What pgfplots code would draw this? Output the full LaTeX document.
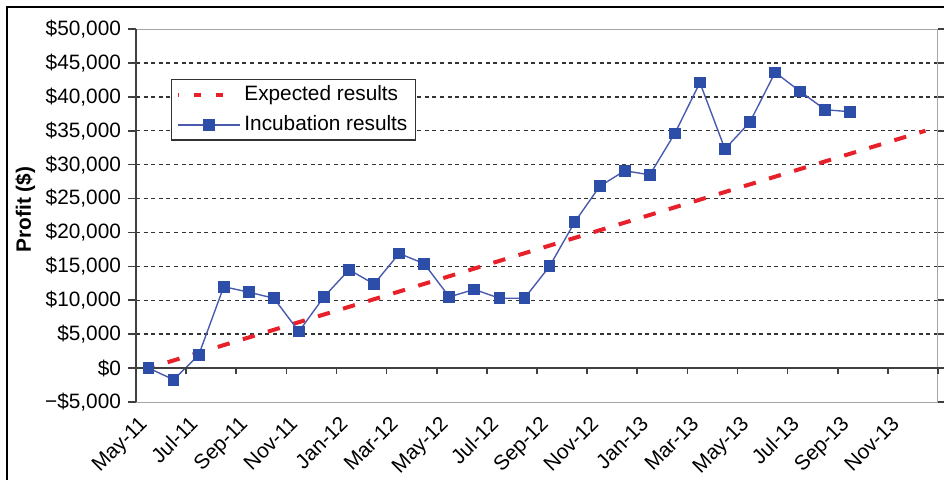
\documentclass[border=0pt]{standalone}
\usepackage{fontspec}
\setmainfont{Liberation Sans}
\usepackage{pgfplots}
\pgfplotsset{compat=1.18}

\definecolor{incmark}{RGB}{45,78,168}
\definecolor{incline}{RGB}{74,91,174}
\definecolor{expred}{RGB}{232,32,42}
\definecolor{axdark}{RGB}{64,64,64}

\begin{document}
\begin{tikzpicture}[font=\fontsize{10.4}{12}\selectfont]
% page size (axis box south west corner sits at the origin)
\path[use as bounding box] (-68pt,-38.5pt) rectangle (404pt,201pt);
\begin{axis}[
    scale only axis,
    width=401pt,
    height=186.5pt,
    xmin=-0.5, xmax=31.5,
    ymin=-5000, ymax=50000,
    scaled ticks=false,
    clip=false,
    axis line style={black!35, line width=0.5pt},
    xtick={0,2,...,30},
    xticklabels={May-11,Jul-11,Sep-11,Nov-11,Jan-12,Mar-12,May-12,Jul-12,
                 Sep-12,Nov-12,Jan-13,Mar-13,May-13,Jul-13,Sep-13,Nov-13},
    xtick style={draw=none},
    % shift of about 6pt to the left on the page (shifts act in the rotated frame)
    xticklabel style={rotate=45, anchor=north east, inner sep=1pt, xshift=-4.2pt, yshift=3.2pt},
    ytick={0,5000,...,45000},
    yticklabels={{\$0},{\$5,000},{\$10,000},{\$15,000},{\$20,000},{\$25,000},
                 {\$30,000},{\$35,000},{\$40,000},{\$45,000}},
    extra y ticks={-5000,50000},
    extra y tick labels={{−\$5,000},{\$50,000}},
    extra y tick style={grid=none},
    ytick style={axdark, line width=0.8pt},
    tick align=outside,
    major tick length=4pt,
    ymajorgrids,
    grid style={black!80, line width=0.7pt, dash pattern=on 2pt off 1.8pt},
    ylabel={\bfseries Profit (\$)},
    ylabel style={at={(axis description cs:-0.138,0.516)}, anchor=center},
    legend style={
        at={(0.0436,0.866)}, anchor=north west,
        draw=black!80, line width=0.75pt, fill=white,
        inner xsep=2pt, inner ysep=1pt,
        row sep=2pt,
        cells={anchor=west},
        font=\fontsize{10.4}{12}\selectfont,
    },
]

% Expected results: straight line from May-11 to Dec-13
\addplot[expred, line width=2pt, dash pattern=on 6.2pt off 6.9pt, dash phase=3.1pt,
    legend image code/.code={\draw[expred, line width=2pt, dash pattern=on 3.5pt off 7.5pt] (0pt,0pt) -- (25.5pt,0pt);}]
    coordinates {(0,0) (31,35000)};
\addlegendentry{Expected results}

% Incubation results, monthly May-11 .. Sep-13
\addplot[incline, line width=0.7pt, mark=square*, mark size=2.6pt,
    mark options={fill=incmark, draw=incmark},
    legend image code/.code={\draw[incline, line width=0.7pt, mark repeat=2, mark phase=2]
        plot coordinates {(0pt,0pt) (15.5pt,0pt) (31pt,0pt)};}]
    table {
    x y
    0 0
    1 -1700
    2 1900
    3 12000
    4 11200
    5 10300
    6 5400
    7 10500
    8 14500
    9 12400
    10 16900
    11 15400
    12 10500
    13 11600
    14 10300
    15 10300
    16 15000
    17 21500
    18 26800
    19 29100
    20 28500
    21 34600
    22 42100
    23 32300
    24 36300
    25 43600
    26 40800
    27 38100
    28 37800
    };
\addlegendentry{Incubation results}

% dark y axis and zero line with tick marks
\draw[axdark, line width=0.8pt] (axis cs:-0.5,-5000) -- (axis cs:-0.5,50000);
\draw[axdark, line width=0.8pt] (axis cs:-0.5,0) -- (axis cs:31.5,0);
\pgfplotsinvokeforeach{1.5,3.5,...,31.5}{
    \draw[axdark, line width=0.8pt] (axis cs:#1,0) -- (axis cs:#1,-880);
}
\end{axis}
% outer frame (left and top)
\draw[black, line width=1.2pt] (-64.5pt,-45pt) -- (-64.5pt,197.5pt) -- (410pt,197.5pt);
\end{tikzpicture}
\end{document}
